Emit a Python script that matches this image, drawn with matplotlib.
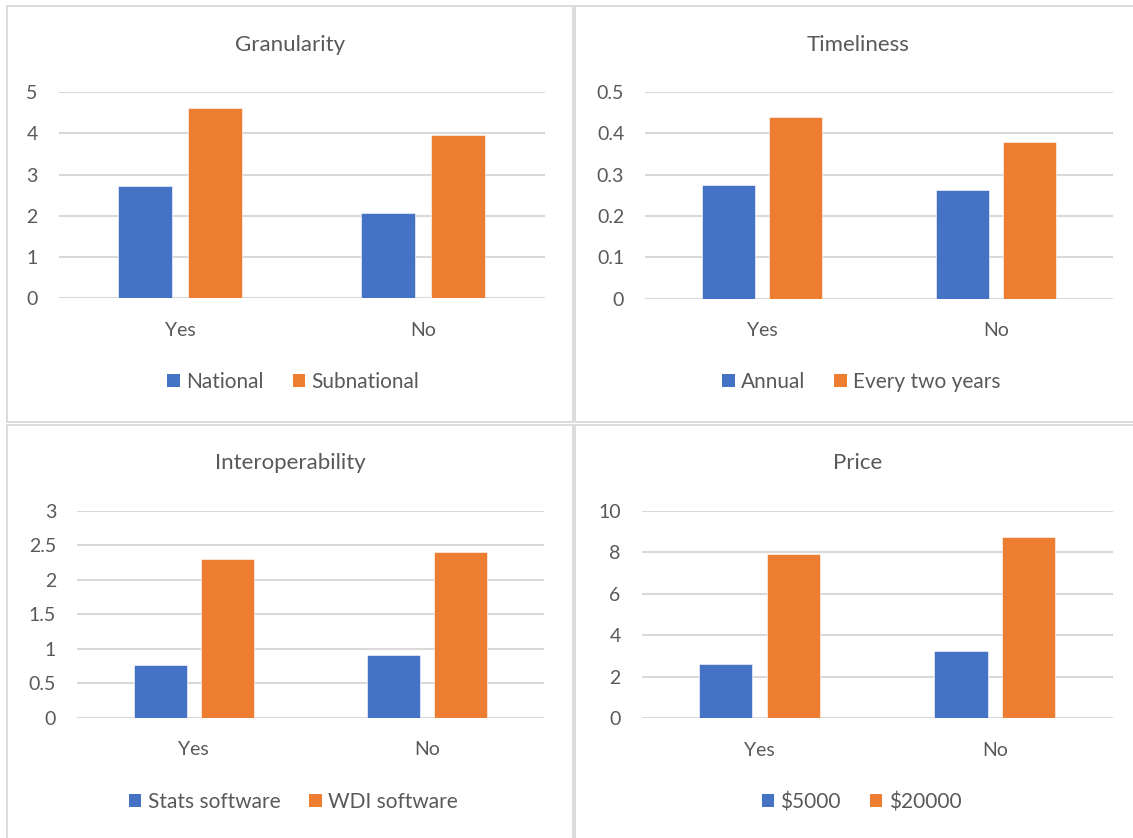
import matplotlib.pyplot as plt
from matplotlib.patches import Rectangle, Patch

# Survey results: one small dataset per panel
categories = ["Yes", "No"]

granularity_national = [2.72, 2.07]
granularity_subnational = [4.62, 3.96]

timeliness_annual = [0.274, 0.263]
timeliness_two_years = [0.44, 0.379]

interop_stats = [0.76, 0.91]
interop_wdi = [2.30, 2.40]

price_5000 = [2.60, 3.23]
price_20000 = [7.92, 8.75]

BLUE = "#4472C4"
ORANGE = "#ED7D31"
GRID = "#d9d9d9"
TEXT = "#595959"

plt.rcParams["font.family"] = ["Lato", "DejaVu Sans"]

W, H = 1133, 838
fig = plt.figure(figsize=(W / 100, H / 100), dpi=100)


def px_rect(x0, y0, x1, y1):
    """Pixel box (top-left origin) -> figure fraction [left, bottom, width, height]"""
    return [x0 / W, 1 - y1 / H, (x1 - x0) / W, (y1 - y0) / H]


# Light grey frames around each chart
for (x0, y0, x1, y1) in [(7, 6, 573, 422), (575, 6, 1145, 422),
                         (7, 425, 573, 850), (575, 425, 1145, 850)]:
    fig.add_artist(Rectangle((x0 / W, 1 - y1 / H), (x1 - x0) / W, (y1 - y0) / H,
                             transform=fig.transFigure, fill=False,
                             edgecolor=GRID, linewidth=1.3))

panels = [
    # title, series, labels, plot box in px, y max, y step, panel centre, title y, legend y
    ("Granularity", granularity_national, granularity_subnational,
     ["National", "Subnational"], (58.5, 92.3, 544.5, 298.3), 5, 1, 290, 45, 382),
    ("Timeliness", timeliness_annual, timeliness_two_years,
     ["Annual", "Every two years"], (645, 92, 1113, 298.7), 0.5, 0.1, 858, 45, 382),
    ("Interoperability", interop_stats, interop_wdi,
     ["Stats software", "WDI software"], (77, 510.7, 544, 717.7), 3, 0.5, 290, 463, 802),
    ("Price", price_5000, price_20000,
     ["$5000", "$20000"], (641.5, 510.7, 1112.7, 718), 10, 2, 858, 463, 802),
]

bar_w = 0.226
offset = 0.144

for title, s1, s2, names, box, ymax, ystep, cx, ty, ly in panels:
    ax = fig.add_axes(px_rect(*box))
    xs = range(len(categories))
    ax.bar([x - offset for x in xs], s1, width=bar_w, color=BLUE,
           edgecolor="white", linewidth=0.4, zorder=3)
    ax.bar([x + offset for x in xs], s2, width=bar_w, color=ORANGE,
           edgecolor="white", linewidth=0.4, zorder=3)

    ax.set_xlim(-0.5, len(categories) - 0.5)
    ax.set_ylim(0, ymax)
    n = int(round(ymax / ystep))
    ticks = [i * ystep for i in range(n + 1)]
    ax.set_yticks(ticks)
    ax.set_yticklabels(["{:g}".format(round(t, 2)) for t in ticks])
    ax.set_xticks(list(xs))
    ax.set_xticklabels(categories)

    ax.yaxis.grid(True, color=GRID, linewidth=1.5, zorder=0)
    ax.set_axisbelow(True)
    for sp in ax.spines.values():
        sp.set_visible(False)
    ax.tick_params(axis="both", length=0, labelsize=14, colors=TEXT)
    ax.tick_params(axis="y", pad=15)
    ax.tick_params(axis="x", pad=17)

    fig.text(cx / W, 1 - ty / H, title, ha="center", va="center",
             fontsize=16, color=TEXT)

    handles = [Patch(facecolor=BLUE), Patch(facecolor=ORANGE)]
    fig.legend(handles, names, loc="center", bbox_to_anchor=(cx / W + 0.003, 1 - ly / H),
               ncol=2, frameon=False, fontsize=15, labelcolor=TEXT,
               handlelength=0.6, handleheight=0.6, handletextpad=0.3,
               columnspacing=1.4)

fig.savefig("out.png", dpi=100)
